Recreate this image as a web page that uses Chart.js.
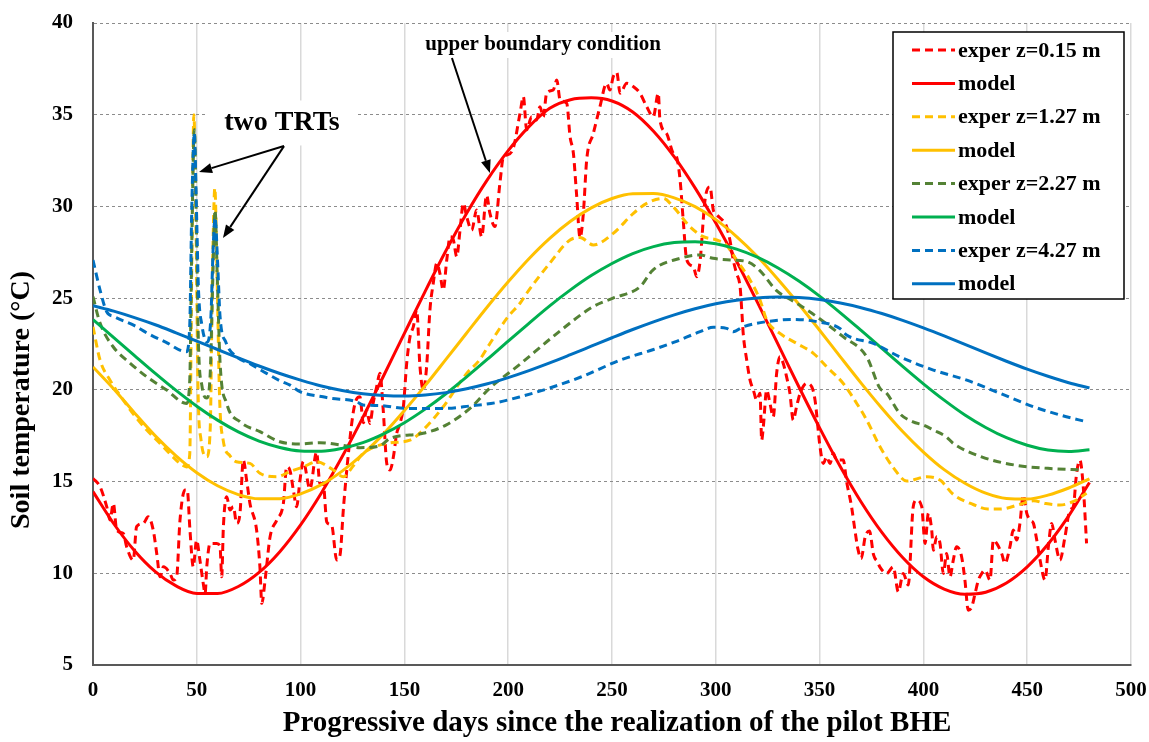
<!DOCTYPE html>
<html>
<head>
<meta charset="utf-8">
<title>Soil temperature</title>
<script src="https://cdn.jsdelivr.net/npm/chart.js@4.4.1/dist/chart.umd.min.js"></script>
<style>
  html, body { margin: 0; padding: 0; background: #fff; }
  #wrap { width: 1149px; height: 742px; position: relative; }
</style>
</head>
<body>
<div id="wrap"><canvas id="chart"></canvas></div>
<script>
// ---- measured series: [day, temperature °C] ----
const exper015 = [[0,15.17],[3.4,14.72],[6.6,13.63],[8.2,12.9],[9.8,13.81],[11.4,12.36],[14.6,12.17],[16.2,11.45],[19.4,10.72],[21,12.54],
  [24.2,12.72],[26.6,13.08],[29,12.36],[30.7,11.08],[32.3,9.81],[33.9,10.35],[37.1,9.99],[38.7,9.63],[40.3,9.81],[41.9,12.9],
  [44.3,14.54],[45.4,14.54],[46.7,12.36],[48.3,10.35],[49.9,11.81],[51.5,10.72],[53.1,9.45],[54,8.9],[54.8,10.35],[56.4,11.63],
  [59.6,11.63],[61.2,11.45],[62,9.81],[62.8,12.54],[64.4,14.17],[66,13.45],[67.6,13.63],[69.2,12.72],[70.8,13.27],[72.4,16.17],
  [74,15.08],[75.6,13.81],[78.8,12.36],[80.4,10.35],[81.3,8.36],[82.9,9.63],[85.3,11.99],[88.5,12.9],[91.7,13.81],[93.3,15.8],
  [94.9,15.6],[96.5,14.54],[98.1,13.63],[99.7,15.08],[101.3,16.1],[104.5,14.6],[107.7,16.6],[109.3,14.9],[110.9,14.9],[112.6,12.8],
  [115,12.6],[117.4,10.72],[119,11.0],[120.6,13.5],[123,16.5],[125.4,18.8],[127,19.5],[128.6,19.62],[130.2,18.2],[131.8,18.9],
  [133.4,18.17],[135,19.3],[136.7,20.2],[138.2,20.9],[139.8,18.9],[141.5,15.99],[143.1,15.63],[144.7,16.35],[146.3,17.63],[147.9,18.17],
  [149.5,19.08],[151.1,21.44],[152.7,22.9],[154.3,23.44],[155.9,24.35],[157.5,21.26],[159.1,19.99],[160.7,21.26],[162.3,24.35],[163.9,25.81],
  [165.6,26.9],[167.1,26.35],[168.7,25.44],[170.4,27.08],[172,28.35],[173.6,28.17],[175.2,27.26],[176.8,28.71],[178.4,30.17],[180,29.44],
  [182.4,28.71],[184.8,29.8],[187.2,28.35],[189.6,30.6],[191.2,29.62],[193.6,28.9],[196,31.26],[197.7,32.71],[199.3,32.8],[202.5,33.2],
  [205.7,35.08],[207.3,35.98],[208.9,34.17],[211.3,34.89],[213.7,34.71],[215.3,35.44],[216.9,34.89],[218.5,36.17],[221.7,36.35],[223.4,36.89],
  [225,35.8],[228.2,35.62],[229.8,33.8],[231.4,32.9],[232.9,30.71],[234.6,28.3],[236.2,29.62],[237.8,32.53],[241,33.98],[244.2,35.44],
  [247.4,36.71],[249,36.35],[250.6,37.07],[252.3,37.3],[253.9,36.17],[257.1,36.71],[260.3,36.53],[263.5,36.17],[266.7,35.44],[269.9,34.89],
  [272.3,36.17],[273.1,34.71],[276.3,33.98],[279.5,32.9],[281.1,32.71],[282.8,31.44],[284.3,29.26],[286,27.08],[289.2,26.71],[290.8,26.17],
  [292.4,27.0],[294.8,30.35],[297.2,31.07],[298.8,29.8],[300.4,29.55],[303.6,29.2],[305.2,28.89],[306.8,28.17],[308.4,27.08],[310,26.35],
  [311.7,25.62],[312.5,24.35],[313.2,23.08],[314.9,21.62],[316.5,20.53],[318.1,19.99],[319.7,19.44],[321.3,19.81],[322.1,17.26],[322.9,17.99],
  [324.5,19.99],[326.1,19.26],[327.7,18.53],[329.3,20.9],[330.9,21.8],[332.5,21.44],[334.1,20.71],[335.7,19.81],[337.3,18.35],[338.9,19.08],
  [340.6,19.81],[343.8,20.35],[346.2,20.17],[347.8,19.44],[350.2,16.9],[351.8,15.99],[353.4,16.35],[355,15.99],[356.6,16.54],[358.2,16.17],
  [361.4,16.17],[363,15.0],[365.4,13.63],[367,12.36],[368.5,11.3],[370,10.8],[372,12.0],[374,12.3],[376,11.0],[378,10.6],
  [379,10.35],[382.3,9.99],[385.5,10.35],[387.9,8.99],[390.3,9.99],[392.7,9.36],[395.1,13.63],[396.7,13.99],[399.2,13.63],[400.8,11.63],
  [402.4,13.27],[404,12.36],[404.8,11.26],[406.4,11.99],[408,11.63],[409.6,9.99],[411.2,11.08],[412.8,9.81],[414.4,10.72],[416,11.45],
  [418.4,10.9],[420,9.63],[421.6,7.99],[423.3,8.17],[424.9,8.9],[426.5,9.63],[428.1,9.99],[429.7,10.17],[432.1,9.63],[433.7,11.81],
  [435.3,11.63],[437.7,11.08],[439.3,10.54],[441.7,11.45],[443.3,12.36],[444.9,11.81],[446.5,12.72],[448.1,14.26],[449.8,13.27],[451.4,12.9],
  [453,12.72],[454.6,11.81],[456.2,10.72],[458.6,9.63],[460.2,11.45],[461.8,12.72],[463.4,11.81],[465.8,10.72],[468.2,11.99],[470.6,13.45],
  [472.2,13.63],[473.8,15.45],[475.4,16.17],[477,14.72],[478.6,11.63]];

const exper127 = [[0,23.44],[3.4,21.62],[8.2,20.53],[14.6,19.44],[20,18.6],[25.9,17.81],[32.3,17.08],[38,16.4],[41.9,15.99],[45.1,15.8],
  [46.6,16.5],[47.6,27],[48.6,35.0],[49.6,29],[50.6,20],[52,17.3],[54.8,16.35],[56.5,18],[57.5,26],[58.7,31.0],
  [59.8,26],[61,19.5],[62.7,17.26],[66,16.4],[69,16.08],[75.6,15.99],[80.4,15.45],[88.5,15.26],[94.9,15.55],[101.3,15.8],
  [107.7,16.08],[115.8,15.63],[120.6,15.26],[125,15.8],[130.2,16.54],[141.5,17.08],[152.7,17.26],[159,17.81],[168.7,19.08],[180,20.9],
  [186,21.6],[191.2,22.53],[200,24.0],[205.7,24.72],[209,25.28],[220,26.9],[229.8,28.17],[234.6,28.3],[241,27.9],[250.6,28.53],
  [260.3,29.62],[266.7,30.17],[274.7,30.44],[279.5,29.98],[287.6,28.89],[294,28.35],[300.4,28.17],[305,27.9],[310,27.08],[316.5,25.99],
  [321.3,24.9],[324.5,23.81],[330.9,23.08],[339,22.53],[347,21.99],[353.4,21.26],[361.4,20.35],[367.9,19.26],[372.7,18.35],[379.1,16.9],
  [385.5,15.76],[392,15.03],[401.6,15.26],[408,15.08],[414.4,14.3],[424,13.75],[431,13.5],[437,13.5],[446.5,13.76],[453,13.95],
  [459,13.8],[465.8,13.72],[472,13.9],[478.6,14.36]];

const exper227 = [[0,25.08],[3.4,23.64],[9.7,22.35],[17.8,21.46],[25.9,20.71],[35.5,19.99],[45,19.26],[46.6,20.5],[47.6,28],[48.8,34.2],
  [49.8,29],[50.8,22.5],[52.5,20.2],[54.8,19.55],[56.5,21],[57.7,26],[58.8,29.8],[59.9,26],[61.2,21.5],[64.4,19.26],
  [70.8,18.26],[80.4,17.72],[90,17.17],[99.7,17.05],[109.3,17.12],[119,17.0],[128.6,16.85],[138.2,16.95],[143,17.35],[159,17.63],
  [170,18.08],[181.6,18.99],[191,20.08],[205.7,21.4],[221.6,22.9],[240.8,24.53],[250.5,25.0],[263.5,25.62],[269.7,26.53],[282.8,27.17],
  [292.4,27.35],[298.7,27.17],[307,27.08],[315,26.99],[321,26.53],[329,25.44],[339,24.72],[348.6,23.99],[361.3,22.9],[372.7,21.8],
  [379,20.1],[382.3,19.81],[388.7,18.7],[395,18.26],[400,18.08],[404.8,17.81],[411,17.44],[414.4,17.08],[428,16.35],[444,15.9],
  [460,15.72],[477,15.63]];

const exper427 = [[0,27.08],[3.4,25.44],[6.6,24.26],[10,24.0],[20,23.5],[26,23.1],[35,22.6],[45,22.08],[46.6,23.5],[47.6,30],
  [48.8,34.0],[49.8,30],[50.8,25.5],[52.5,23.5],[55,22.6],[56.8,24],[57.8,27.5],[58.8,29.4],[60,27],[61.2,24],
  [64,22.6],[69.2,21.8],[76,21.4],[83.6,20.9],[90,20.5],[94.9,20.26],[99.7,19.9],[110.8,19.62],[114,19.55],[127,19.35],
  [130,19.17],[138,19.15],[151,18.99],[170,18.99],[181.6,19.12],[194,19.3],[205.7,19.62],[220,20.1],[235,20.7],[254,21.62],
  [270,22.2],[280,22.6],[292.4,23.17],[298.8,23.41],[305.2,23.35],[308.4,23.17],[313.2,23.44],[324.5,23.72],[337.3,23.84],[348.6,23.72],
  [359.8,23.35],[363,22.99],[375.9,22.53],[388.7,21.8],[404.8,21.08],[420.9,20.53],[436.9,19.81],[453,19.08],[465.8,18.63],[478.6,18.26]];

// ---- model series, sampled every 10 days ----
const modelDays = [0,10,20,30,40,50,60,70,80,90,100,110,120,130,140,150,160,170,180,190,200,210,220,230,240,
  250,260,270,280,290,300,310,320,330,340,350,360,370,380,390,400,410,420,430,440,450,460,470,480];
const model015 = [14.45,12.70,11.23,10.09,9.31,8.90,8.90,9.28,10.05,11.18,12.64,14.38,16.35,18.50,20.77,23.08,25.37,27.58,29.63,31.46,
  33.04,34.35,35.35,35.82,35.92,35.75,35.15,34.10,32.70,31.01,29.10,27.01,24.78,22.48,20.17,17.93,15.81,13.89,12.23,10.86,
  9.81,9.14,8.86,8.97,9.47,10.35,11.58,13.13,14.95];
const model127 = [21.25,20.05,18.74,17.49,16.40,15.48,14.77,14.29,14.06,14.07,14.33,14.83,15.57,16.50,17.60,18.87,20.23,21.66,23.10,24.53,
  25.89,27.15,28.26,29.19,29.92,30.43,30.69,30.70,30.47,29.99,29.28,28.36,27.27,26.02,24.67,23.25,21.80,20.37,19.00,17.73,
  16.61,15.65,14.91,14.37,14.08,14.05,14.26,14.65,15.15];
const model227 = [23.83,22.85,21.87,20.90,19.97,19.11,18.35,17.71,17.21,16.86,16.67,16.65,16.81,17.12,17.60,18.21,18.95,19.79,20.71,21.67,
  22.66,23.63,24.58,25.45,26.23,26.89,27.43,27.81,28.03,28.08,27.96,27.67,27.23,26.64,25.93,25.11,24.20,23.24,22.26,21.28,
  20.33,19.44,18.63,17.95,17.39,16.98,16.72,16.64,16.73];
const model427 = [24.59,24.29,23.94,23.55,23.11,22.66,22.20,21.74,21.30,20.89,20.53,20.21,19.97,19.79,19.69,19.66,19.72,19.85,20.06,20.33,
  20.67,21.05,21.47,21.92,22.38,22.84,23.29,23.71,24.09,24.42,24.69,24.89,25.01,25.06,25.03,24.92,24.73,24.48,24.16,23.79,
  23.38,22.94,22.48,22.01,21.56,21.13,20.74,20.39,20.11];

// ---- axis ticks ----
const xTicks = [0,50,100,150,200,250,300,350,400,450,500];
const yTicks = [5,10,15,20,25,30,35,40];

const seriesLabels = ['exper z=0.15 m','model','exper z=1.27 m','model','exper z=2.27 m','model','exper z=4.27 m','model'];
const xTitle = 'Progressive days since the realization of the pilot BHE';
const yTitle = 'Soil temperature (°C)';

// ---- styling ----
const FONT = '"Liberation Serif", "Times New Roman", Times, serif';
const COLORS = { red: '#ff0000', yellow: '#ffc000', olive: '#548235', green: '#00b050', blue: '#0070c0' };
const DASH = [8, 5];

const fromPairs = pairs => pairs.map(p => ({ x: p[0], y: p[1] }));
const fromModel = temps => modelDays.map((d, i) => ({ x: d, y: temps[i] }));

function series(label, data, color, dashed, order) {
  return {
    label, data,
    borderColor: color, backgroundColor: color,
    borderWidth: 3, borderDash: dashed ? DASH : [],
    pointRadius: 0, fill: false,
    cubicInterpolationMode: 'monotone',
    order
  };
}

const datasets = [
  series(seriesLabels[0], fromPairs(exper015), COLORS.red, true, 8),
  series(seriesLabels[1], fromModel(model015), COLORS.red, false, 7),
  series(seriesLabels[2], fromPairs(exper127), COLORS.yellow, true, 6),
  series(seriesLabels[3], fromModel(model127), COLORS.yellow, false, 5),
  series(seriesLabels[4], fromPairs(exper227), COLORS.olive, true, 4),
  series(seriesLabels[5], fromModel(model227), COLORS.green, false, 3),
  series(seriesLabels[6], fromPairs(exper427), COLORS.blue, true, 2),
  series(seriesLabels[7], fromModel(model427), COLORS.blue, false, 1)
];

// callouts, anchored in data coordinates (day, °C)
const callouts = [
  { text: 'two TRTs', at: [91, 34.55], size: 28, boxW: 148, boxH: 45,
    arrows: [ { from: [92, 33.29], to: [51.1, 31.88] }, { from: [92, 33.29], to: [62.6, 28.28] } ] },
  { text: 'upper boundary condition', at: [216.8, 38.8], size: 21, boxW: 270, boxH: 26,
    arrows: [ { from: [172.9, 38.09], to: [191.2, 31.82] } ] }
];

function drawArrow(ctx, x0, y0, x1, y1) {
  const ang = Math.atan2(y1 - y0, x1 - x0);
  const len = 13, half = 5;
  const bx = x1 - len * Math.cos(ang), by = y1 - len * Math.sin(ang);
  ctx.beginPath();
  ctx.moveTo(x0, y0);
  ctx.lineTo(bx, by);
  ctx.stroke();
  ctx.beginPath();
  ctx.moveTo(x1, y1);
  ctx.lineTo(bx + half * Math.sin(ang), by - half * Math.cos(ang));
  ctx.lineTo(bx - half * Math.sin(ang), by + half * Math.cos(ang));
  ctx.closePath();
  ctx.fill();
}

const decorations = {
  id: 'decorations',
  beforeDatasetsDraw(chart) {
    const { ctx, scales: { x, y } } = chart;
    ctx.save();
    ctx.fillStyle = '#ffffff';
    callouts.forEach(c => {
      const cx = x.getPixelForValue(c.at[0]);
      const cy = y.getPixelForValue(c.at[1]);
      ctx.fillRect(cx - c.boxW / 2, cy - c.boxH / 2, c.boxW, c.boxH);
    });
    ctx.restore();
  },
  afterDraw(chart) {
    const { ctx, scales: { x, y } } = chart;
    ctx.save();

    // callout text and arrows
    ctx.fillStyle = '#000';
    ctx.strokeStyle = '#000';
    ctx.lineWidth = 2;
    ctx.textAlign = 'center';
    ctx.textBaseline = 'middle';
    callouts.forEach(c => {
      ctx.font = `bold ${c.size}px ${FONT}`;
      ctx.fillText(c.text, x.getPixelForValue(c.at[0]), y.getPixelForValue(c.at[1]));
      c.arrows.forEach(a => drawArrow(ctx,
        x.getPixelForValue(a.from[0]), y.getPixelForValue(a.from[1]),
        x.getPixelForValue(a.to[0]), y.getPixelForValue(a.to[1])));
    });

    // axis titles
    ctx.font = `bold 29px ${FONT}`;
    ctx.fillText(xTitle, 617, 724);
    ctx.save();
    ctx.translate(22, 400);
    ctx.rotate(-Math.PI / 2);
    ctx.font = `bold 28px ${FONT}`;
    ctx.fillText(yTitle, 0, 0);
    ctx.restore();

    // legend box
    const box = { x: 893, y: 32, w: 231, h: 267 };
    const row0 = 17.5, step = 33.4, lx0 = 912, lx1 = 955, tx = 958;
    ctx.fillStyle = '#fff';
    ctx.fillRect(box.x, box.y, box.w, box.h);
    ctx.lineWidth = 1.5;
    ctx.strokeStyle = '#000';
    ctx.strokeRect(box.x, box.y, box.w, box.h);
    ctx.font = `bold 22px ${FONT}`;
    ctx.textAlign = 'left';
    ctx.textBaseline = 'middle';
    chart.data.datasets.forEach((ds, i) => {
      const ry = box.y + row0 + i * step + 0.5;
      ctx.beginPath();
      ctx.setLineDash(ds.borderDash || []);
      ctx.strokeStyle = ds.borderColor;
      ctx.lineWidth = 3;
      ctx.moveTo(lx0, ry);
      ctx.lineTo(lx1, ry);
      ctx.stroke();
      ctx.setLineDash([]);
      ctx.fillStyle = '#000';
      ctx.fillText(ds.label, tx, ry + 1);
    });
    ctx.restore();
  }
};

new Chart(document.getElementById('chart'), {
  type: 'line',
  data: { datasets },
  options: {
    responsive: true,
    maintainAspectRatio: false,
    animation: false,
    events: [],
    layout: { padding: { top: 23, right: 18, left: 0, bottom: 0 } },
    plugins: { legend: { display: false }, tooltip: { enabled: false } },
    scales: {
      x: {
        type: 'linear', min: xTicks[0], max: xTicks[xTicks.length - 1],
        afterBuildTicks: s => { s.ticks = xTicks.map(v => ({ value: v })); },
        ticks: { color: '#000', font: { family: FONT, size: 21, weight: 'bold' }, padding: 13, maxRotation: 0 },
        grid: { color: '#d9d9d9', lineWidth: 1.5, drawTicks: false },
        border: { display: true, color: '#595959', width: 2 },
        afterFit: s => { s.height = 77; s.paddingLeft = 0; s.paddingRight = 0; }
      },
      y: {
        type: 'linear', min: yTicks[0], max: yTicks[yTicks.length - 1],
        afterBuildTicks: s => { s.ticks = yTicks.map(v => ({ value: v })); },
        ticks: { color: '#000', font: { family: FONT, size: 21, weight: 'bold' }, padding: 20 },
        grid: { color: '#8c8c8c', lineWidth: 1, drawTicks: false },
        border: { display: true, color: '#595959', width: 2, dash: [3, 3] },
        afterFit: s => { s.width = 93; s.paddingTop = 0; s.paddingBottom = 0; }
      }
    }
  },
  plugins: [decorations]
});
</script>
</body>
</html>
